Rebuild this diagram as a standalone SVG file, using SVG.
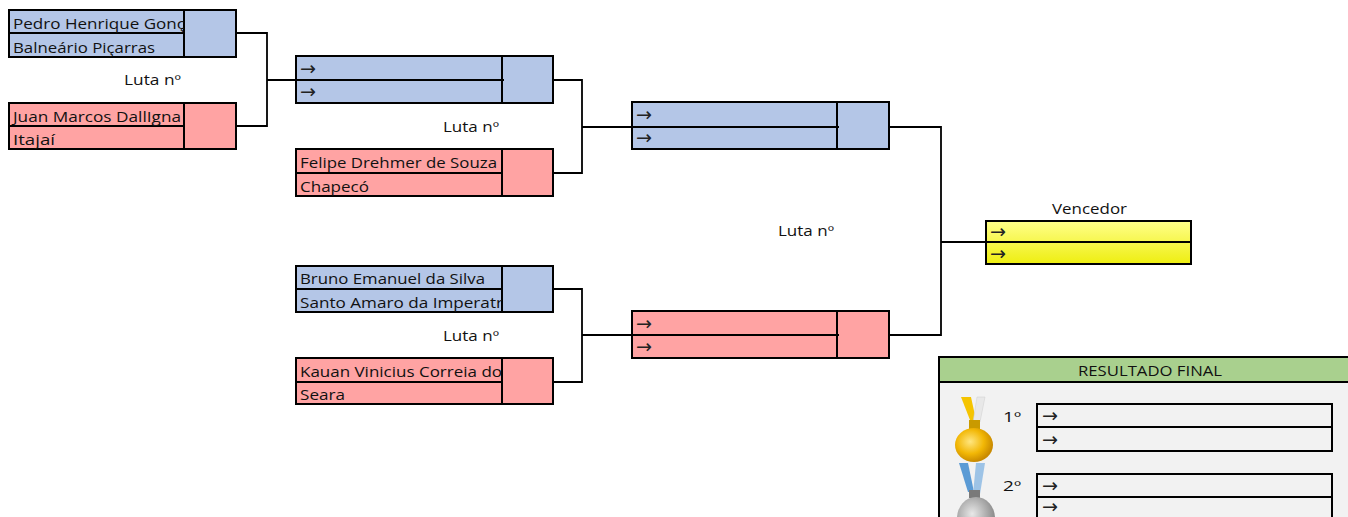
<svg xmlns="http://www.w3.org/2000/svg" width="1348" height="517" viewBox="0 0 1348 517">
<style>
.t{font-family:"Open Sans","Liberation Sans",sans-serif;font-size:14px;fill:#111}
.ar{font-family:"DejaVu Sans",sans-serif;font-size:19px;fill:#222}
.b{stroke:#000;stroke-width:2;fill:none}
.blue{fill:#b4c6e7}
.pink{fill:#ffa3a3}
.c{stroke:#000;stroke-width:1.8;fill:none}
</style>
<defs>
<linearGradient id="yg" x1="0" y1="0" x2="0" y2="1">
<stop offset="0" stop-color="#ffff8a"/>
<stop offset="1" stop-color="#eeee10"/>
</linearGradient>
<radialGradient id="gold" cx="0.4" cy="0.4" r="0.6">
<stop offset="0" stop-color="#ffe680"/>
<stop offset="0.6" stop-color="#f2b705"/>
<stop offset="1" stop-color="#c98a00"/>
</radialGradient>
<radialGradient id="silver" cx="0.4" cy="0.4" r="0.6">
<stop offset="0" stop-color="#e8e8e8"/>
<stop offset="1" stop-color="#8a8a8a"/>
</radialGradient>
<clipPath id="c1"><rect x="9" y="10" width="175" height="47"/></clipPath>
<clipPath id="c6"><rect x="296" y="266" width="206" height="138"/></clipPath>
</defs>

<g id="connectors">
<path class="c" d="M236 33H267V126H236M267 80H296"/>
<path class="c" d="M553 80H582V173H553M582 127H632"/>
<path class="c" d="M553 289H582V382H553M582 335H632"/>
<path class="c" d="M889 127H941V335H889M941 242H986"/>
</g>

<g id="m1">
<rect class="blue" x="9" y="10" width="227" height="47"/>
<rect class="b" x="9" y="10" width="227" height="47"/>
<path class="b" d="M9 33H184M184 10V57"/>
<g clip-path="url(#c1)">
<text class="t" x="13" y="29" textLength="172" lengthAdjust="spacingAndGlyphs">Pedro Henrique Gonç</text>
<text class="t" x="13" y="53" textLength="142" lengthAdjust="spacingAndGlyphs">Balneário Piçarras</text>
</g>
</g>

<g id="m2">
<rect class="pink" x="9" y="103" width="227" height="46"/>
<rect class="b" x="9" y="103" width="227" height="46"/>
<path class="b" d="M9 126H184M184 103V149"/>
<text class="t" x="13" y="122" textLength="168" lengthAdjust="spacingAndGlyphs">Juan Marcos DallIgna</text>
<text class="t" x="13" y="145" textLength="42" lengthAdjust="spacingAndGlyphs">Itajaí</text>
</g>

<g id="labels">
<text class="t" x="124" y="85" textLength="57" lengthAdjust="spacingAndGlyphs">Luta nº</text>
<text class="t" x="443" y="132" textLength="56" lengthAdjust="spacingAndGlyphs">Luta nº</text>
<text class="t" x="778" y="236" textLength="56" lengthAdjust="spacingAndGlyphs">Luta nº</text>
<text class="t" x="443" y="341" textLength="56" lengthAdjust="spacingAndGlyphs">Luta nº</text>
</g>

<g id="m3">
<rect class="blue" x="296" y="56" width="257" height="47"/>
<rect class="b" x="296" y="56" width="257" height="47"/>
<path class="b" d="M296 80H504M502 56V103"/>
<text class="ar" x="300" y="74.5" textLength="16" lengthAdjust="spacingAndGlyphs">→</text>
<text class="ar" x="300" y="97.5" textLength="16" lengthAdjust="spacingAndGlyphs">→</text>
</g>

<g id="m4">
<rect class="pink" x="296" y="149" width="257" height="47"/>
<rect class="b" x="296" y="149" width="257" height="47"/>
<path class="b" d="M296 173H502M502 149V196"/>
<text class="t" x="300" y="168" textLength="197" lengthAdjust="spacingAndGlyphs">Felipe Drehmer de Souza</text>
<text class="t" x="300" y="192" textLength="69" lengthAdjust="spacingAndGlyphs">Chapecó</text>
</g>

<g id="m6">
<rect class="blue" x="296" y="266" width="257" height="46"/>
<rect class="b" x="296" y="266" width="257" height="46"/>
<path class="b" d="M296 289H502M502 266V312"/>
<g clip-path="url(#c6)">
<text class="t" x="300" y="284" textLength="185" lengthAdjust="spacingAndGlyphs">Bruno Emanuel da Silva</text>
<text class="t" x="300" y="308" textLength="203" lengthAdjust="spacingAndGlyphs">Santo Amaro da Imperatr</text>
</g>
</g>

<g id="m7">
<rect class="pink" x="296" y="358" width="257" height="46"/>
<rect class="b" x="296" y="358" width="257" height="46"/>
<path class="b" d="M296 382H502M502 358V404"/>
<g clip-path="url(#c6)">
<text class="t" x="300" y="377" textLength="202" lengthAdjust="spacingAndGlyphs">Kauan Vinicius Correia do</text>
<text class="t" x="300" y="400" textLength="45" lengthAdjust="spacingAndGlyphs">Seara</text>
</g>
</g>

<g id="m5">
<rect class="blue" x="632" y="102" width="257" height="47"/>
<rect class="b" x="632" y="102" width="257" height="47"/>
<path class="b" d="M632 127H839M837 102V149"/>
<text class="ar" x="636" y="120.5" textLength="16" lengthAdjust="spacingAndGlyphs">→</text>
<text class="ar" x="636" y="143.5" textLength="16" lengthAdjust="spacingAndGlyphs">→</text>
</g>

<g id="m8">
<rect class="pink" x="632" y="311" width="257" height="47"/>
<rect class="b" x="632" y="311" width="257" height="47"/>
<path class="b" d="M632 335H839M837 311V358"/>
<text class="ar" x="636" y="329.5" textLength="16" lengthAdjust="spacingAndGlyphs">→</text>
<text class="ar" x="636" y="352.5" textLength="16" lengthAdjust="spacingAndGlyphs">→</text>
</g>

<g id="winner">
<text class="t" x="1052" y="214" textLength="75" lengthAdjust="spacingAndGlyphs">Vencedor</text>
<rect x="986" y="221" width="205" height="43" fill="url(#yg)"/>
<rect class="b" x="986" y="221" width="205" height="43"/>
<path class="b" d="M986 242H1191"/>
<text class="ar" x="990" y="237.5" textLength="16" lengthAdjust="spacingAndGlyphs">→</text>
<text class="ar" x="990" y="259.5" textLength="16" lengthAdjust="spacingAndGlyphs">→</text>
</g>

<g id="result">
<rect x="939" y="357" width="412" height="170" fill="#f2f2f2" stroke="#000" stroke-width="2"/>
<rect x="939" y="357" width="412" height="25" fill="#a9d08e" stroke="#000" stroke-width="2"/>
<text class="t" x="1078" y="376" textLength="144" lengthAdjust="spacingAndGlyphs">RESULTADO FINAL</text>
<g id="medal-gold">
<path d="M961 397H971L976 420H970Z" fill="#f5c400"/>
<path d="M977 397H985L980 422H973Z" fill="#e8e8e8" stroke="#cfcfcf" stroke-width="0.5"/>
<rect x="969" y="420" width="11" height="9" fill="#c99a00"/>
<ellipse cx="974" cy="445" rx="19" ry="17" fill="url(#gold)"/>
</g>
<g id="medal-silver">
<path d="M959 463H968L974 492H968Z" fill="#5b9bd5"/>
<path d="M976 463H985L980 494H973Z" fill="#9dc3e6"/>
<rect x="969" y="490" width="11" height="8" fill="#7a7a7a"/>
<ellipse cx="976" cy="518" rx="19" ry="21" fill="url(#silver)"/>
</g>
<text class="t" x="1003" y="422" textLength="18" lengthAdjust="spacingAndGlyphs">1º</text>
<text class="t" x="1003" y="491" textLength="18" lengthAdjust="spacingAndGlyphs">2º</text>
<rect class="b" x="1037" y="404" width="295" height="47"/>
<path class="b" d="M1037 427H1332"/>
<text class="ar" x="1042" y="421.5" textLength="16" lengthAdjust="spacingAndGlyphs">→</text>
<text class="ar" x="1042" y="445.5" textLength="16" lengthAdjust="spacingAndGlyphs">→</text>
<rect class="b" x="1037" y="474" width="295" height="50"/>
<path class="b" d="M1037 497H1332"/>
<text class="ar" x="1042" y="491.5" textLength="16" lengthAdjust="spacingAndGlyphs">→</text>
<text class="ar" x="1042" y="513" textLength="16" lengthAdjust="spacingAndGlyphs">→</text>
</g>
</svg>
